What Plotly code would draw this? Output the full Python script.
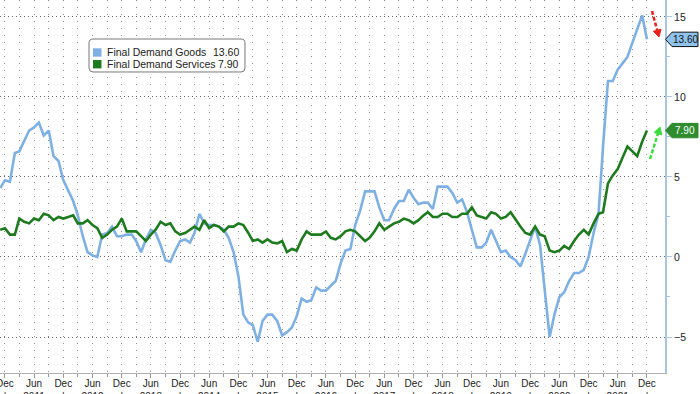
import plotly.graph_objects as go
import pandas as pd

# ---------------- data ----------------
months = pd.date_range("2010-11-01", "2021-12-01", freq="MS")

goods = [
    4.3, 4.8,
    4.7, 6.5, 6.6, 7.3, 7.9, 8.1, 8.4, 7.6, 7.9, 6.3, 6.0, 4.8,
    4.2, 3.5, 2.6, 1.3, 0.3, 0.1, 0.0, 1.4, 1.5, 1.9, 1.3, 1.3,
    1.4, 1.4, 1.0, 0.3, 1.1, 1.7, 1.5, 0.75, -0.2, -0.3, 0.4, 1.0,
    1.1, 0.9, 1.5, 2.7, 2.1, 2.0, 2.0, 1.9, 1.7, 1.2, 0.3, -1.2,
    -3.6, -4.1, -4.25, -5.3, -4.0, -3.6, -3.6, -4.0, -4.9, -4.7, -4.4, -3.7,
    -2.6, -2.8, -2.7, -1.9, -2.1, -2.1, -1.8, -1.5, -0.4, 0.4, 0.5, 2.0,
    2.9, 4.1, 4.1, 4.1, 3.1, 2.3, 2.3, 3.0, 3.5, 3.5, 4.2, 3.7,
    3.3, 3.4, 3.4, 3.0, 4.4, 4.4, 4.4, 4.0, 3.4, 3.6, 2.8, 1.7,
    0.6, 0.6, 0.9, 1.7, 1.0, 0.3, 0.4, 0.0, -0.2, -0.6, 0.2, 1.1,
    1.9, 0.75, -2.1, -5.0, -3.6, -2.5, -2.2, -1.5, -1.0, -1.0, -0.8, 0.0,
    1.5, 2.7, 6.9, 11.0, 11.0, 11.7, 12.1, 12.5, 13.4, 14.2, 15.1, 13.6,
]

services = [
    1.7, 1.8,
    1.4, 1.4, 2.4, 2.2, 2.1, 2.4, 2.3, 2.7, 2.6, 2.3, 2.5, 2.4,
    2.5, 2.6, 2.1, 2.1, 2.3, 2.0, 1.8, 1.2, 1.4, 1.7, 1.9, 2.4,
    1.6, 1.6, 1.6, 1.3, 1.0, 1.4, 1.7, 2.2, 2.0, 2.1, 1.6, 1.4,
    1.5, 1.7, 1.9, 1.7, 2.3, 1.8, 2.0, 1.9, 1.6, 1.9, 1.9, 2.1,
    2.0, 1.5, 1.0, 1.1, 0.9, 1.1, 0.9, 0.85, 1.0, 0.3, 0.5, 0.4,
    1.1, 1.6, 1.4, 1.4, 1.4, 1.6, 1.2, 1.1, 1.3, 1.6, 1.7, 1.6,
    1.3, 1.0, 1.2, 1.6, 2.1, 1.7, 1.9, 2.1, 2.2, 2.4, 2.3, 2.1,
    2.3, 2.6, 2.8, 2.5, 2.5, 2.7, 2.7, 2.5, 2.5, 2.7, 2.7, 3.1,
    2.6, 2.5, 2.4, 2.8, 2.7, 2.4, 2.5, 2.8, 2.3, 1.9, 1.5, 1.4,
    1.9, 1.4, 1.3, 0.4, 0.3, 0.4, 0.7, 0.5, 1.0, 1.4, 1.7, 1.4,
    2.1, 2.7, 2.8, 4.6, 5.1, 5.5, 6.2, 6.9, 6.6, 6.3, 7.2, 7.9,
]

series_names = ["Final Demand Goods", "Final Demand Services"]
last_labels = ["13.60", "7.90"]

tick_dates = pd.date_range("2010-12-01", "2021-12-01", freq="6MS")
tick_text = [("Dec<br>|" if d.month == 12 else "Jun<br>%d" % d.year) for d in tick_dates]
minor_dates = pd.date_range("2011-03-01", "2021-09-01", freq="6MS")
y_ticks = [-5, 0, 5, 10, 15]

# ---------------- styling / layout helpers ----------------
BLUE = "#7fb0e2"
GREEN = "#1e7a1e"
W, H = 665.0, 373.0
YMIN, YMAX = -7.25, 16.06
FONT = "Liberation Sans, Arial, sans-serif"


def xp(px):
    return px / W


def ypix(py):
    return 1 - py / H


def yv(v):
    return (v - YMIN) / (YMAX - YMIN)


fig = go.Figure()
fig.add_trace(go.Scatter(x=months, y=goods, mode="lines", name=series_names[0],
                         line=dict(color=BLUE, width=2.6), showlegend=False))
fig.add_trace(go.Scatter(x=months, y=services, mode="lines", name=series_names[1],
                         line=dict(color=GREEN, width=2.6), showlegend=False))

shapes = []
annotations = []

# value callouts on the right axis
for val, lab, fill, border, tcol in [
    (goods[-1], last_labels[0], "#8fc2ee", "#111111", "#111111"),
    (services[-1], last_labels[1], "#2e8b2e", "#2e8b2e", "#ffffff"),
]:
    c = yv(val)
    h = 7.2 / H
    path = "M %f,%f L %f,%f L %f,%f L %f,%f L %f,%f Z" % (
        xp(665.5), c, xp(672), c + h, xp(698), c + h, xp(698), c - h, xp(672), c - h)
    shapes.append(dict(type="path", xref="paper", yref="paper", path=path,
                       fillcolor=fill, line=dict(color=border, width=1), layer="above"))
    annotations.append(dict(xref="paper", yref="paper", x=xp(685), y=c, text=lab,
                            showarrow=False, xanchor="center", yanchor="middle",
                            font=dict(family=FONT, size=10, color=tcol)))


def arrow(x0, y0, x1, y1, color, hl=7.0, hw=4.0):
    dx, dy = x1 - x0, y1 - y0
    L = (dx * dx + dy * dy) ** 0.5
    ux, uy = dx / L, dy / L
    bx, by = x1 - hl * ux, y1 - hl * uy
    px_, py_ = -uy, ux
    shapes.append(dict(type="line", xref="paper", yref="paper",
                       x0=xp(x0), y0=ypix(y0), x1=xp(bx), y1=ypix(by),
                       line=dict(color=color, width=2.5, dash="4px,2px")))
    path = "M %f,%f L %f,%f L %f,%f Z" % (
        xp(x1), ypix(y1),
        xp(bx + hw * px_), ypix(by + hw * py_),
        xp(bx - hw * px_), ypix(by - hw * py_))
    shapes.append(dict(type="path", xref="paper", yref="paper", path=path,
                       fillcolor=color, line=dict(color=color, width=1)))


arrow(652, 11, 659, 37, "#e8231e")
arrow(650, 159, 660, 127, "#3ddc3d")

# custom legend box
x0, x1, y0, y1, r = 89, 245, 39, 72, 4
p = "M %f,%f " % (xp(x0 + r), ypix(y0))
p += "L %f,%f Q %f,%f %f,%f " % (xp(x1 - r), ypix(y0), xp(x1), ypix(y0), xp(x1), ypix(y0 + r))
p += "L %f,%f Q %f,%f %f,%f " % (xp(x1), ypix(y1 - r), xp(x1), ypix(y1), xp(x1 - r), ypix(y1))
p += "L %f,%f Q %f,%f %f,%f " % (xp(x0 + r), ypix(y1), xp(x0), ypix(y1), xp(x0), ypix(y1 - r))
p += "L %f,%f Q %f,%f %f,%f Z" % (xp(x0), ypix(y0 + r), xp(x0), ypix(y0), xp(x0 + r), ypix(y0))
shapes.append(dict(type="path", xref="paper", yref="paper", path=p,
                   fillcolor="white", line=dict(color="#777777", width=1), layer="above"))
for i, (nm, lab, col) in enumerate(zip(series_names, last_labels, [BLUE, GREEN])):
    cy = 52.5 + 11.7 * i
    shapes.append(dict(type="rect", xref="paper", yref="paper",
                       x0=xp(93), x1=xp(101.5), y0=ypix(cy - 4.2), y1=ypix(cy + 4.2),
                       fillcolor=col, line=dict(width=0), layer="above"))
    annotations.append(dict(xref="paper", yref="paper", x=xp(104.5), y=ypix(cy), text=nm,
                            showarrow=False, xanchor="left", yanchor="middle",
                            font=dict(family=FONT, size=10.5, color="#222222")))
    annotations.append(dict(xref="paper", yref="paper", x=xp(241), y=ypix(cy), text=lab,
                            showarrow=False, xanchor="right", yanchor="middle",
                            font=dict(family=FONT, size=10.5, color="#222222")))

fig.update_layout(
    width=700, height=394,
    margin=dict(l=0, r=35, t=0, b=21, autoexpand=False),
    paper_bgcolor="white", plot_bgcolor="white",
    showlegend=False,
    font=dict(family=FONT, size=10, color="#222222"),
    shapes=shapes, annotations=annotations,
    xaxis=dict(
        type="date", range=["2010-10-31", "2022-03-24"], automargin=False,
        tickmode="array", tickvals=tick_dates, ticktext=tick_text,
        ticks="outside", ticklen=4, tickcolor="#999999", ticklabelstandoff=-3,
        showgrid=True, gridcolor="#8c8c8c", griddash="1px,6px", gridwidth=1,
        showline=True, linecolor="#b0b0b0", linewidth=1,
        zeroline=False, ticklabeloverflow="allow",
        tickfont=dict(size=10, color="#222222"),
        minor=dict(tickmode="array", tickvals=minor_dates, showgrid=True,
                   gridcolor="#8c8c8c", griddash="1px,6px", gridwidth=1,
                   ticks="outside", ticklen=3, tickcolor="#999999"),
    ),
    yaxis=dict(
        side="right", range=[YMIN, YMAX], automargin=False,
        tickmode="array", tickvals=y_ticks,
        ticks="outside", ticklen=5, tickcolor="#a8c6df",
        showgrid=True, gridcolor="#666666", griddash="1px,3px", gridwidth=1,
        showline=True, linecolor="#a8c6df", linewidth=2,
        zeroline=False,
        tickfont=dict(size=10.5, color="#222222"),
        minor=dict(dtick=2.5, tick0=0, ticks="outside", ticklen=3,
                   tickcolor="#a8c6df", showgrid=False),
    ),
)

fig.write_html("out.html", config={"displayModeBar": False},
               post_script="document.body.style.margin='0';document.body.style.overflow='hidden';")
